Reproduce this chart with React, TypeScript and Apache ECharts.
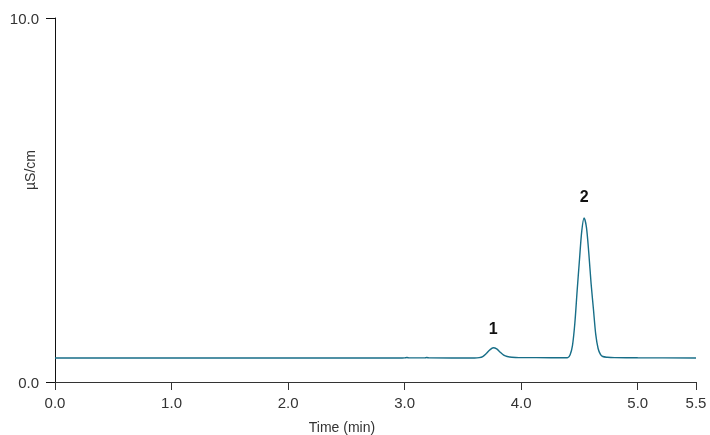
import React, { useEffect, useRef } from "react";
import * as echarts from "echarts";

const times = [
  0.0, 1.0, 2.0, 2.98, 3.0, 3.02, 3.04, 3.17, 3.19, 3.21, 3.6, 3.64, 3.67, 3.7,
  3.73, 3.76, 3.79, 3.82, 3.85, 3.88, 3.92, 3.98, 4.13, 4.38, 4.4, 4.42, 4.44,
  4.46, 4.48, 4.5, 4.52, 4.54, 4.56, 4.58, 4.6, 4.62, 4.64, 4.66, 4.68, 4.7,
  4.74, 4.8, 5.0, 5.5,
];
const signal = [
  0.66, 0.66, 0.66, 0.66, 0.662, 0.672, 0.662, 0.662, 0.672, 0.662, 0.66, 0.67,
  0.7, 0.78, 0.88, 0.94, 0.91, 0.82, 0.74, 0.7, 0.68, 0.67, 0.67, 0.665, 0.67,
  0.75, 1.0, 1.6, 2.5, 3.35, 4.15, 4.51, 4.25, 3.55, 2.7, 2.0, 1.3, 0.92, 0.76,
  0.7, 0.68, 0.67, 0.665, 0.66,
];
const peakLabels = ["1", "2"];
const peakTimes = [3.76, 4.54];
const peakValues = [0.94, 4.51];
const xTicks = [0, 1, 2, 3, 4, 5, 5.5];
const yTicks = [0, 10];

export default function App() {
  const ref = useRef<HTMLDivElement>(null);
  useEffect(() => {
    if (!ref.current) return;
    document.body.style.margin = "0";
    const chart = echarts.init(ref.current, null, { renderer: "svg" });
    const font = "Liberation Sans, Arial, sans-serif";
    chart.setOption({
      animation: false,
      grid: { left: 55, right: 14, top: 18, bottom: 53 },
      xAxis: {
        type: "value",
        min: 0,
        max: 5.5,
        offset: 1,
        axisLine: { show: true, lineStyle: { color: "#333", width: 1 } },
        axisTick: {
          show: true,
          length: 8,
          customValues: xTicks,
          lineStyle: { color: "#333" },
        },
        axisLabel: {
          customValues: xTicks,
          formatter: (v: number) => v.toFixed(1),
          color: "#333",
          fontSize: 15,
          fontFamily: font,
          margin: 12,
        },
        splitLine: { show: false },
      },
      yAxis: {
        type: "value",
        min: 0,
        max: 10,
        interval: 10,
        offset: 1,
        axisLine: { show: true, lineStyle: { color: "#111", width: 1 } },
        axisTick: {
          show: true,
          length: 9,
          customValues: yTicks,
          lineStyle: { color: "#111" },
        },
        axisLabel: {
          customValues: yTicks,
          formatter: (v: number) => v.toFixed(1),
          color: "#333",
          fontSize: 15,
          fontFamily: font,
          margin: 15,
        },
        splitLine: { show: false },
      },
      graphic: [
        {
          type: "text",
          x: 342,
          y: 427,
          style: {
            text: "Time (min)",
            fill: "#333",
            font: `14px ${font}`,
            textAlign: "center",
            textVerticalAlign: "middle",
          },
        },
        {
          type: "text",
          x: 30,
          y: 170,
          rotation: Math.PI / 2,
          style: {
            text: "µS/cm",
            fill: "#333",
            font: `14px ${font}`,
            textAlign: "center",
            textVerticalAlign: "middle",
          },
        },
      ],
      series: [
        {
          type: "line",
          data: times.map((t, i) => [t, signal[i]]),
          showSymbol: false,
          smooth: 0.3,
          lineStyle: { color: "#176e88", width: 1.4 },
          markPoint: {
            symbol: "circle",
            symbolSize: 0,
            data: peakLabels.map((l, i) => ({
              coord: [peakTimes[i], peakValues[i]],
              value: l,
              label: {
                show: true,
                formatter: l,
                offset: [0, i === 0 ? -19 : -21],
                color: "#111",
                fontWeight: "bold",
                fontSize: 16,
                fontFamily: font,
              },
            })),
          },
        },
      ],
    });
    return () => chart.dispose();
  }, []);
  return (
    <div
      ref={ref}
      style={{ width: 710, height: 435, position: "fixed", left: 0, top: 0 }}
    />
  );
}
